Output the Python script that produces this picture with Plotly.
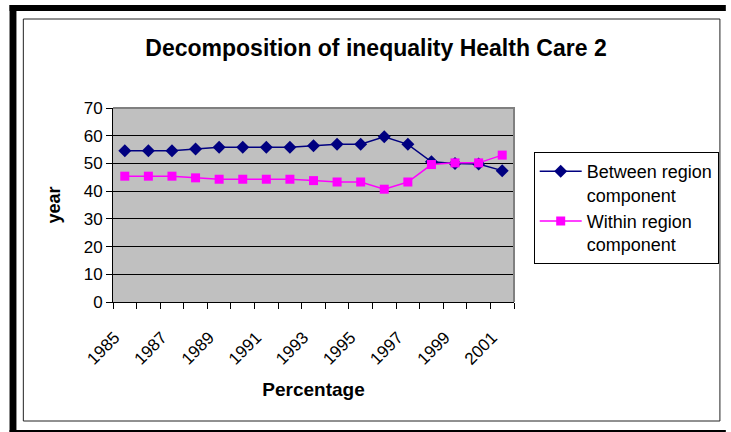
import plotly.graph_objects as go

# data
years = list(range(1985, 2002))
between = [54.6, 54.6, 54.6, 55.2, 55.8, 55.8, 55.8, 55.8, 56.4, 56.9, 56.9, 59.6, 56.9, 50.6, 50.0, 49.8, 47.4]
within = [45.4, 45.4, 45.4, 44.8, 44.3, 44.3, 44.3, 44.3, 43.8, 43.3, 43.3, 40.7, 43.3, 49.6, 50.2, 50.2, 53.0]
label_years = [1985, 1987, 1989, 1991, 1993, 1995, 1997, 1999, 2001]

W, H = 731, 432
L, R, T, B = 113, 520, 108, 302  # plot area in pixels
FONT = "Liberation Sans, Arial, sans-serif"


def px_x(p):
    return (p - L) / (R - L)


def px_y(p):
    return (B - p) / (B - T)


fig = go.Figure()
fig.add_trace(go.Scatter(
    x=years, y=between, name="Between region<br>component",
    mode="lines+markers",
    line=dict(color="#000080", width=1.5),
    marker=dict(symbol="diamond", size=10, color="#000080"),
))
fig.add_trace(go.Scatter(
    x=years, y=within, name="Within region<br>component",
    mode="lines+markers",
    line=dict(color="#FF00FF", width=1.5),
    marker=dict(symbol="square", size=9, color="#FF00FF"),
))

shapes = [
    # thick outer frame
    dict(type="rect", xref="paper", yref="paper", x0=px_x(8), x1=px_x(735), y0=px_y(5), y1=px_y(11),
         fillcolor="black", line_width=0),
    dict(type="rect", xref="paper", yref="paper", x0=px_x(8), x1=px_x(15), y0=px_y(5), y1=px_y(440),
         fillcolor="black", line_width=0),
    dict(type="rect", xref="paper", yref="paper", x0=px_x(8), x1=px_x(735), y0=px_y(430), y1=px_y(440),
         fillcolor="black", line_width=0),
    # thin inner frame
    dict(type="rect", xref="paper", yref="paper", x0=px_x(22), x1=px_x(729), y0=px_y(19), y1=px_y(421),
         line=dict(color="#222222", width=1)),
    # plot area top/right border
    dict(type="path", xref="paper", yref="paper", path="M 0,1 L 1,1 L 1,0",
         line=dict(color="#808080", width=2), layer="above"),
]

fig.update_layout(
    width=W, height=H,
    margin=dict(l=L, r=W - R, t=T, b=H - B),
    paper_bgcolor="white",
    plot_bgcolor="#C0C0C0",
    font=dict(family=FONT, color="black", size=17),
    title=dict(text="<b>Decomposition of inequality Health Care 2</b>",
               font=dict(size=23, family=FONT),
               x=376 / W, xref="container", xanchor="center",
               y=1 - 48 / H, yref="container", yanchor="middle"),
    legend=dict(x=px_x(540), y=px_y(152), xanchor="left", yanchor="top",
                bordercolor="black", borderwidth=1, bgcolor="white",
                font=dict(size=18, family=FONT), valign="top",
                itemwidth=42, entrywidth=141, entrywidthmode="pixels"),
    shapes=shapes,
    showlegend=True,
)

fig.update_xaxes(
    range=[1984.5, 2001.5],
    tickvals=label_years, ticktext=[str(y) for y in label_years],
    tickangle=-45, ticks="", showgrid=False,
    ticklabelstandoff=18, ticklabelshift=-10,
    showline=True, linecolor="black", linewidth=1,
    minor=dict(tick0=1984.5, dtick=1, ticks="outside", ticklen=6, tickcolor="black", showgrid=False),
    tickfont=dict(size=17),
    title=dict(text="<b>Percentage</b>", font=dict(size=19), standoff=15),
    zeroline=False,
)
fig.update_yaxes(
    range=[0, 70], dtick=10,
    showgrid=True, gridcolor="black", gridwidth=1,
    showline=True, linecolor="black", linewidth=1,
    ticks="outside", ticklen=6, tickcolor="black",
    tickfont=dict(size=17),
    title=dict(text="<b>year</b>", font=dict(size=18), standoff=18),
    zeroline=False,
)

# the page body keeps its default 8px margin otherwise
fig.write_html("out.html", config={"displayModeBar": False},
               post_script="document.body.style.margin='0';")
